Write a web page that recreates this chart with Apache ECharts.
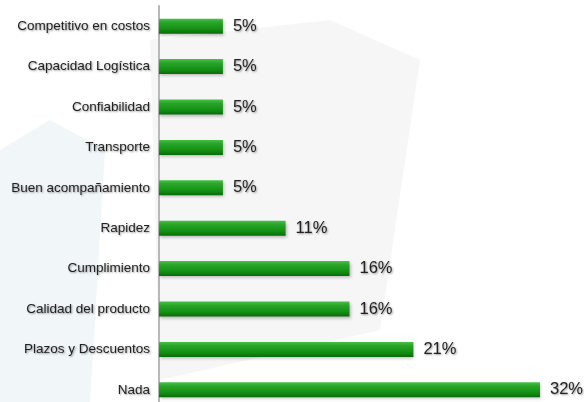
<!DOCTYPE html>
<html>
<head>
<meta charset="utf-8">
<script src="https://cdn.jsdelivr.net/npm/echarts@6/dist/echarts.min.js"></script>
<style>
html,body{margin:0;padding:0;background:#fff;}
#c{width:584px;height:402px;}
</style>
</head>
<body>
<div id="c"></div>
<script>
var categories = ['Competitivo en costos','Capacidad Logística','Confiabilidad','Transporte','Buen acompañamiento','Rapidez','Cumplimiento','Calidad del producto','Plazos y Descuentos','Nada'];
var values = [5.3, 5.3, 5.3, 5.3, 5.3, 10.5, 15.8, 15.8, 21.1, 31.6];
var valueLabels = ['5%','5%','5%','5%','5%','11%','16%','16%','21%','32%'];

var chart = echarts.init(document.getElementById('c'), null, {renderer:'canvas'});
var green = new echarts.graphic.LinearGradient(0,0,0,1,[
  {offset:0,color:'#46c046'},
  {offset:0.25,color:'#2aa52a'},
  {offset:0.7,color:'#139013'},
  {offset:1,color:'#0a6a0a'}
]);
chart.setOption({
  animation:false,
  backgroundColor:'#ffffff',
  graphic:[
    {type:'polygon',silent:true,z:-10,shape:{points:[[0,150],[50,120],[105,150],[90,402],[0,402]]},style:{fill:'rgba(215,230,238,0.35)'}},
    {type:'polygon',silent:true,z:-10,shape:{points:[[150,40],[330,20],[420,60],[380,330],[160,380]]},style:{fill:'rgba(225,225,225,0.3)'}}
  ],
  grid:{left:159,top:6,height:404,width:422,containLabel:false,outerBoundsMode:'none'},
  xAxis:{type:'value',min:0,max:35,show:false},
  yAxis:{type:'category',data:categories,inverse:true,
    axisLine:{show:true,lineStyle:{color:'#b8b8b8',width:2}},
    axisTick:{show:false},
    axisLabel:{margin:9,fontFamily:'Liberation Sans, Arial, sans-serif',fontSize:13.5,color:'#222',
      textShadowColor:'rgba(0,0,0,0.4)',textShadowBlur:2,textShadowOffsetX:1,textShadowOffsetY:1}
  },
  series:[{type:'bar',data:values,barWidth:15,
    itemStyle:{color:green,
      shadowColor:'rgba(0,0,0,0.25)',shadowBlur:3,shadowOffsetX:1,shadowOffsetY:2},
    label:{show:true,position:'right',distance:10,
      formatter:function(p){return valueLabels[p.dataIndex];},
      fontFamily:'Liberation Sans, Arial, sans-serif',fontSize:16.5,color:'#222',
      textShadowColor:'rgba(0,0,0,0.4)',textShadowBlur:2,textShadowOffsetX:1,textShadowOffsetY:1}
  }]
});
</script>
</body>
</html>
